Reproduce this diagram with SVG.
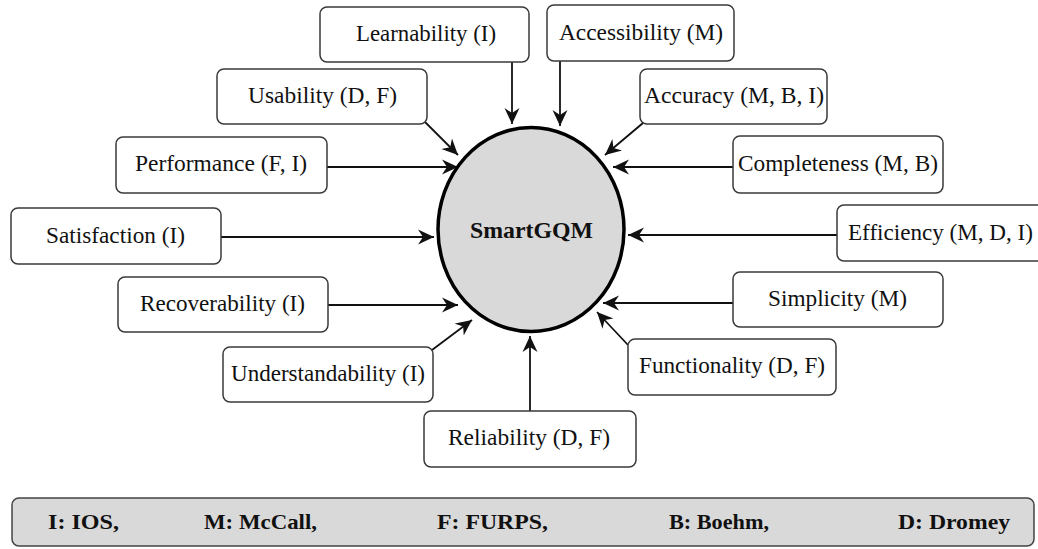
<svg xmlns="http://www.w3.org/2000/svg" width="1038" height="549" viewBox="0 0 1038 549">
<style>
.box{fill:#fff;stroke:#3a3a3a;stroke-width:1.5}
.lbl{font-family:"Liberation Serif","Times New Roman",serif;font-size:23px;fill:#111;text-anchor:middle}
.leg{font-family:"Liberation Serif","Times New Roman",serif;font-size:22px;font-weight:bold;fill:#111}
.con{stroke:#111;stroke-width:1.8;fill:none;marker-end:url(#arr)}
</style>
<defs>
<marker id="arr" markerUnits="userSpaceOnUse" markerWidth="18" markerHeight="18" refX="16" refY="8" orient="auto">
<path d="M0,0.5 L16,8 L0,15.5 L5,8 z" fill="#111"/>
</marker>
</defs>
<rect width="1038" height="549" fill="#fff"/>
<g id="connectors">
<line class="con" x1="512" y1="62" x2="512" y2="124"/>
<line class="con" x1="560" y1="61" x2="560" y2="126"/>
<line class="con" x1="424" y1="121" x2="458" y2="155"/>
<line class="con" x1="643" y1="123" x2="605" y2="155"/>
<line class="con" x1="327" y1="167" x2="458" y2="167"/>
<line class="con" x1="733" y1="167" x2="613" y2="167"/>
<line class="con" x1="221" y1="237" x2="434" y2="237"/>
<line class="con" x1="837" y1="235" x2="628" y2="235"/>
<line class="con" x1="328" y1="305" x2="458" y2="305"/>
<line class="con" x1="733" y1="303" x2="603" y2="303"/>
<line class="con" x1="432" y1="350" x2="472" y2="320"/>
<line class="con" x1="628" y1="345" x2="597" y2="312"/>
<line class="con" x1="530" y1="411" x2="530" y2="336"/>
</g>
<g id="smartgqm">
<ellipse cx="531" cy="229.5" rx="93" ry="102" fill="#d9d9d9" stroke="#000" stroke-width="3.5"/>
<text class="lbl" x="531.5" y="238" font-weight="bold" textLength="123" lengthAdjust="spacingAndGlyphs">SmartGQM</text>
</g>
<g id="learnability">
<rect class="box" x="320" y="7" width="209" height="55" rx="7"/>
<text class="lbl" x="426" y="41" textLength="140" lengthAdjust="spacingAndGlyphs">Learnability (I)</text>
</g>
<g id="accessibility">
<rect class="box" x="547" y="5" width="187" height="56" rx="7"/>
<text class="lbl" x="641" y="40" textLength="164" lengthAdjust="spacingAndGlyphs">Accessibility (M)</text>
</g>
<g id="usability">
<rect class="box" x="217" y="69" width="210" height="55" rx="7"/>
<text class="lbl" x="322.5" y="103" textLength="149" lengthAdjust="spacingAndGlyphs">Usability (D, F)</text>
</g>
<g id="accuracy">
<rect class="box" x="640" y="69" width="187" height="55" rx="7"/>
<text class="lbl" x="734" y="103" textLength="180" lengthAdjust="spacingAndGlyphs">Accuracy (M, B, I)</text>
</g>
<g id="performance">
<rect class="box" x="116" y="137" width="211" height="56" rx="7"/>
<text class="lbl" x="221" y="171" textLength="172" lengthAdjust="spacingAndGlyphs">Performance (F, I)</text>
</g>
<g id="completeness">
<rect class="box" x="733" y="136" width="210" height="57" rx="7"/>
<text class="lbl" x="838" y="171" textLength="200" lengthAdjust="spacingAndGlyphs">Completeness (M, B)</text>
</g>
<g id="satisfaction">
<rect class="box" x="11" y="208" width="210" height="56" rx="7"/>
<text class="lbl" x="115.5" y="243" textLength="139" lengthAdjust="spacingAndGlyphs">Satisfaction (I)</text>
</g>
<g id="efficiency">
<rect class="box" x="837" y="205" width="210" height="56" rx="7"/>
<text class="lbl" x="940.5" y="240" textLength="185" lengthAdjust="spacingAndGlyphs">Efficiency (M, D, I)</text>
</g>
<g id="recoverability">
<rect class="box" x="118" y="277" width="210" height="55" rx="7"/>
<text class="lbl" x="222.5" y="311" textLength="165" lengthAdjust="spacingAndGlyphs">Recoverability (I)</text>
</g>
<g id="simplicity">
<rect class="box" x="733" y="272" width="210" height="55" rx="7"/>
<text class="lbl" x="837.5" y="306" textLength="139" lengthAdjust="spacingAndGlyphs">Simplicity (M)</text>
</g>
<g id="understandability">
<rect class="box" x="223" y="347" width="210" height="55" rx="7"/>
<text class="lbl" x="328" y="381" textLength="194" lengthAdjust="spacingAndGlyphs">Understandability (I)</text>
</g>
<g id="functionality">
<rect class="box" x="628" y="339" width="208" height="56" rx="7"/>
<text class="lbl" x="732" y="373" textLength="186" lengthAdjust="spacingAndGlyphs">Functionality (D, F)</text>
</g>
<g id="reliability">
<rect class="box" x="424" y="411" width="212" height="56" rx="7"/>
<text class="lbl" x="529" y="445" textLength="162" lengthAdjust="spacingAndGlyphs">Reliability (D, F)</text>
</g>
<g id="legend">
<rect x="12" y="498" width="1022" height="48" rx="7" fill="#d9d9d9" stroke="#444" stroke-width="1.5"/>
<text class="leg" x="48" y="529" textLength="71" lengthAdjust="spacingAndGlyphs">I: IOS,</text>
<text class="leg" x="204" y="529" textLength="113" lengthAdjust="spacingAndGlyphs">M: McCall,</text>
<text class="leg" x="437" y="529" textLength="111" lengthAdjust="spacingAndGlyphs">F: FURPS,</text>
<text class="leg" x="669" y="529" textLength="100" lengthAdjust="spacingAndGlyphs">B: Boehm,</text>
<text class="leg" x="898" y="529" textLength="112" lengthAdjust="spacingAndGlyphs">D: Dromey</text>
</g>
</svg>
